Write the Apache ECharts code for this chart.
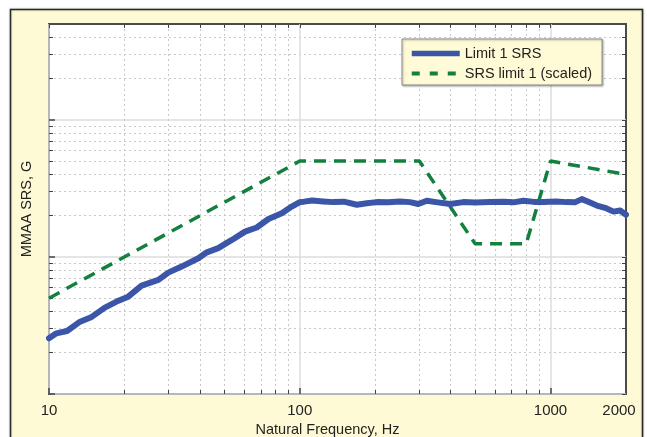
<!DOCTYPE html>
<html>
<head>
<meta charset="utf-8">
<script src="https://cdn.jsdelivr.net/npm/echarts@6/dist/echarts.min.js"></script>
<style>
  html, body { margin: 0; padding: 0; background: #fff; }
  #main { width: 647px; height: 437px; }
</style>
</head>
<body>
<div id="main"></div>
<script>
// Limit 1 SRS (blue)
var freqSRS = [10, 10.7, 11.8, 13.3, 14.8, 16.7, 18.6, 20.7, 23.4, 27.3, 29.9, 33.8, 39.4, 42.6, 47.3, 53.6, 60.5, 67.4, 75, 84.8, 92.9,
  100, 104, 112, 124, 136, 150, 169, 185, 203, 225, 251, 275, 297, 321, 355, 398, 449, 500, 574, 650, 710, 780, 860, 937,
  1050, 1162, 1250, 1333, 1430, 1530, 1650, 1782, 1895, 2000]
var gSRS = [2.55, 2.77, 2.88, 3.37, 3.65, 4.27, 4.72, 5.13, 6.17, 6.79, 7.68, 8.5, 9.78, 10.8, 11.6, 13.3, 15.3, 16.4, 18.9, 20.8, 23.3,
  25.1, 25.3, 25.8, 25.4, 25.1, 25.3, 24.0, 24.6, 25.1, 25.0, 25.4, 25.1, 24.3, 25.7, 25.0, 24.3, 25.1, 24.9, 25.1, 25.3, 25.0, 25.7, 25.2, 25.1,
  25.4, 25.1, 25.0, 26.4, 25.0, 23.7, 22.8, 21.4, 21.8, 20.3]

// SRS limit 1 (scaled), green dashed
var freqScaled = [10, 100, 300, 500, 800, 1000, 2000]
var gScaled = [5, 50, 50, 12.5, 12.5, 50, 40]

// ticks / labels
var xMajor = [10, 100, 1000]
var xMinor = [20, 30, 40, 50, 60, 70, 80, 90, 200, 300, 400, 500, 600, 700, 800, 900]
var xLabels = [10, 100, 1000, 2000]
var yMajor = [1, 10, 100]
var yMinor = [2, 3, 4, 5, 6, 7, 8, 9, 20, 30, 40, 50, 60, 70, 80, 90, 200, 300, 400]

function pairs(xs, ys) {
  return xs.map(function (x, i) { return [x, ys[i]] })
}

var font = 'Liberation Sans, Arial, Helvetica, sans-serif'
var tickColor = '#444'
var blue = '#3b55a8'
var green = '#13803f'

var dom = document.getElementById('main')
var myChart = echarts.init(dom)
var option = {
  backgroundColor: '#fff',
  animation: false,
  graphic: {
    elements: [
      {
        // cream panel behind the plot
        type: 'rect',
        z: -10,
        silent: true,
        shape: { x: 10.5, y: 9.5, width: 632, height: 440 },
        style: { fill: '#fffad6', stroke: '#2a2a2a', lineWidth: 1.5, shadowColor: 'rgba(0,0,0,0.3)', shadowBlur: 2 },
      },
    ],
  },
  grid: {
    left: 49,
    right: 21,
    top: 24,
    bottom: 43,
    show: true,
    backgroundColor: '#fff',
    borderColor: '#4a4a4a',
    borderWidth: 2,
    containLabel: false,
    outerBoundsMode: 'none',
  },
  legend: {
    orient: 'vertical',
    left: 402,
    top: 39,
    itemWidth: 48,
    itemHeight: 14,
    itemGap: 5,
    padding: [7, 10, 4, 7],
    backgroundColor: '#fffbd6',
    borderColor: '#8a8a8a',
    borderWidth: 1,
    shadowColor: 'rgba(0,0,0,0.3)',
    shadowBlur: 2,
    shadowOffsetX: 1,
    shadowOffsetY: 1,
    itemStyle: { opacity: 0 }, // no symbol in the legend sample
    textStyle: { fontFamily: font, fontSize: 14.5, color: '#222' },
    data: [
      { name: 'Limit 1 SRS', lineStyle: { color: blue, width: 5.5, cap: 'butt' } },
      { name: 'SRS limit 1 (scaled)', lineStyle: { color: green, width: 4, type: [8, 10], cap: 'butt' } },
    ],
  },
  xAxis: [
    {
      // major ticks, labels and solid grid lines
      type: 'log',
      logBase: 10,
      min: 10,
      max: 2000,
      position: 'bottom',
      name: 'Natural Frequency, Hz',
      nameLocation: 'middle',
      nameGap: 26,
      nameTextStyle: { fontFamily: font, fontSize: 14.5, color: '#222', padding: [0, 20, 0, 0] },
      axisLine: { show: false },
      axisTick: { show: true, inside: true, length: 6, customValues: xMajor, lineStyle: { color: tickColor, width: 1.5 } },
      axisLabel: {
        show: true,
        customValues: xLabels,
        margin: 9,
        fontFamily: font,
        fontSize: 15,
        color: '#222',
        formatter: function (v) {
          return v === 2000 ? '{r|2000}' : '' + v
        },
        rich: { r: { fontFamily: font, fontSize: 15, color: '#222', padding: [0, 14, 0, 0] } },
      },
      splitLine: { show: true, lineStyle: { color: '#dcdcdc', width: 1.5 } },
      minorTick: { show: false },
    },
    {
      // minor ticks, dotted grid
      type: 'log',
      logBase: 10,
      min: 10,
      max: 2000,
      position: 'bottom',
      axisLine: { show: false },
      axisTick: { show: true, inside: true, length: 4, customValues: xMinor, lineStyle: { color: tickColor } },
      axisLabel: { show: false },
      splitLine: { show: true, lineStyle: { color: '#c8c8c8', width: 1, type: [2, 3] } },
    },
    {
      // top edge ticks
      type: 'log',
      logBase: 10,
      min: 10,
      max: 2000,
      position: 'top',
      axisLine: { show: false },
      axisTick: { show: true, inside: true, length: 4, customValues: xMajor.concat(xMinor), lineStyle: { color: tickColor } },
      axisLabel: { show: false },
      splitLine: { show: false },
    },
  ],
  yAxis: [
    {
      type: 'log',
      logBase: 10,
      min: 1,
      max: 500,
      position: 'left',
      name: 'MMAA SRS, G',
      nameLocation: 'middle',
      nameGap: 15,
      nameTextStyle: { fontFamily: font, fontSize: 14.5, color: '#222' },
      axisLine: { show: false },
      axisTick: { show: true, inside: true, length: 6, customValues: yMajor, lineStyle: { color: tickColor, width: 1.5 } },
      axisLabel: { show: false },
      splitLine: { show: true, lineStyle: { color: '#dcdcdc', width: 1.5 } },
    },
    {
      type: 'log',
      logBase: 10,
      min: 1,
      max: 500,
      position: 'left',
      axisLine: { show: false },
      axisTick: { show: true, inside: true, length: 4, customValues: yMinor, lineStyle: { color: tickColor } },
      axisLabel: { show: false },
      splitLine: { show: true, lineStyle: { color: '#c8c8c8', width: 1, type: [2, 3] } },
    },
    {
      // right edge ticks
      type: 'log',
      logBase: 10,
      min: 1,
      max: 500,
      position: 'right',
      axisLine: { show: false },
      axisTick: { show: true, inside: true, length: 4, customValues: yMajor.concat(yMinor), lineStyle: { color: tickColor } },
      axisLabel: { show: false },
      splitLine: { show: false },
    },
  ],
  series: [
    {
      name: 'Limit 1 SRS',
      type: 'line',
      xAxisIndex: 0,
      yAxisIndex: 0,
      symbol: 'none',
      z: 4,
      lineStyle: { color: blue, width: 6, join: 'round', cap: 'round' },
      itemStyle: { color: blue },
      data: pairs(freqSRS, gSRS),
    },
    {
      name: 'SRS limit 1 (scaled)',
      type: 'line',
      xAxisIndex: 0,
      yAxisIndex: 0,
      symbol: 'none',
      z: 3,
      lineStyle: { color: green, width: 3.5, type: [12, 8] },
      itemStyle: { color: green },
      data: pairs(freqScaled, gScaled),
    },
  ],
}
if (option && typeof option === 'object') {
  myChart.setOption(option, true)
}
</script>
</body>
</html>
